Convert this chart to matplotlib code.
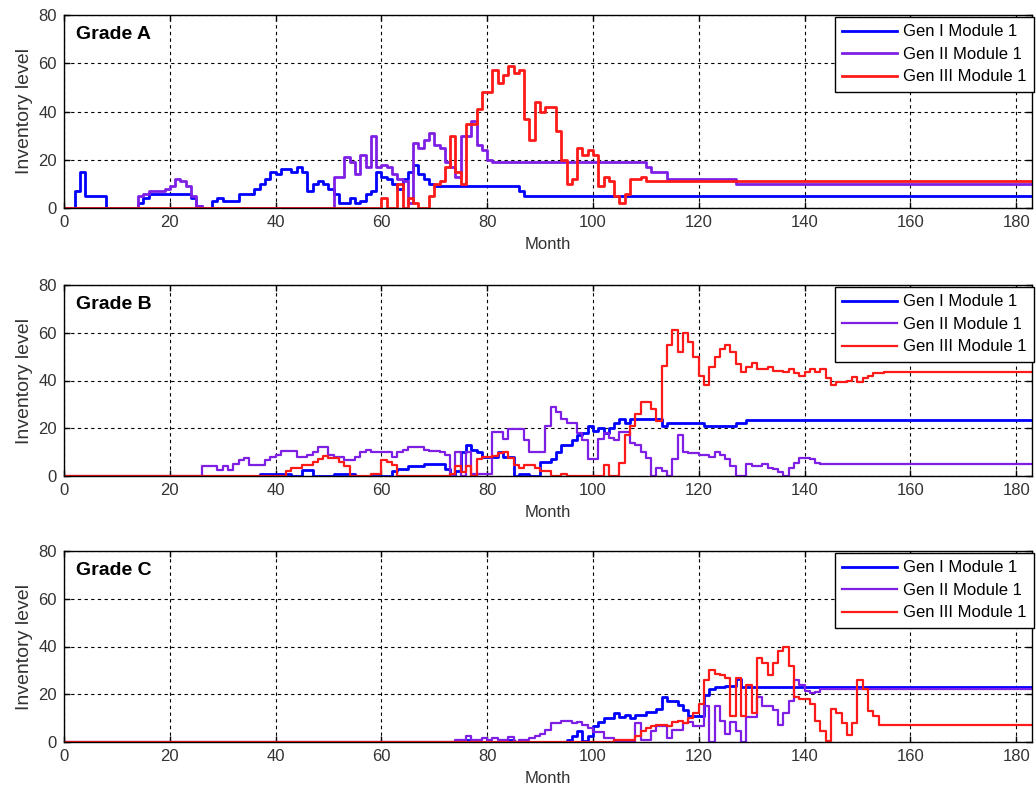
import matplotlib
matplotlib.use("Agg")
import matplotlib.pyplot as plt

plt.rcParams["font.family"] = ["Liberation Sans", "DejaVu Sans"]

# ── Inventory data: (month, level) change points, level holds until next point ──
A_GEN1 = [(0, 0), (2, 7), (3, 15), (4, 5), (8, 0), (14, 2), (15, 4), (16, 6), (24, 4),
          (25, 1), (26, 0), (28, 3), (29, 4), (30, 3), (33, 6), (36, 8), (37, 10),
          (38, 12), (39, 15), (40, 14), (41, 16), (43, 15), (44, 17), (45, 15), (46, 7),
          (47, 10), (48, 11), (49, 10), (50, 8), (51, 6), (52, 2), (54, 4), (55, 2),
          (56, 3), (57, 6), (58, 7), (59, 15), (60, 13), (61, 12), (62, 10), (63, 8),
          (64, 12), (65, 15), (66, 18), (67, 14), (68, 12), (69, 10), (70, 9), (86, 7),
          (87, 5)]
A_GEN2 = [(0, 0), (14, 5), (15, 6), (16, 7), (19, 8), (20, 9), (21, 12), (22, 11),
          (23, 9), (24, 5), (25, 1), (26, 0), (51, 13), (53, 21), (54, 19), (55, 14),
          (56, 22), (57, 17), (58, 30), (59, 17), (60, 18), (61, 17), (62, 14), (63, 12),
          (64, 11), (65, 2), (66, 27), (67, 25), (68, 28), (69, 31), (70, 26), (71, 25),
          (72, 19), (73, 17), (74, 13), (75, 30), (77, 36), (78, 26), (79, 24), (80, 20),
          (81, 19), (110, 17), (111, 15), (114, 12), (127, 10)]
A_GEN3 = [(0, 0), (60, 4), (61, 0), (63, 10), (64, 0), (65, 4), (66, 2), (67, 0),
          (69, 5), (70, 10), (71, 11), (72, 17), (73, 30), (74, 15), (75, 10), (76, 35),
          (78, 41), (79, 48), (81, 57), (82, 52), (83, 55), (84, 59), (85, 56), (86, 57),
          (87, 37), (88, 28), (89, 44), (90, 40), (91, 42), (93, 32), (94, 20), (95, 10),
          (96, 12), (97, 25), (98, 22), (99, 24), (100, 22), (101, 9), (102, 13),
          (103, 11), (104, 5), (105, 2), (106, 6), (107, 12), (109, 13), (110, 11)]

B_GEN1 = [(0, 0), (37, 1), (43, 0), (45, 2.5), (47, 0), (51, 1), (55, 0), (62, 2),
          (63, 3), (65, 4), (68, 5), (72, 3), (73, 0), (74, 2), (75, 10), (76, 13),
          (77, 11), (78, 10), (79, 8), (82, 10), (83, 8), (85, 0), (86, 1), (88, 0),
          (90, 6), (92, 7), (93, 10), (94, 13), (96, 15), (97, 17), (98, 18), (99, 21),
          (100, 19), (101, 20), (102, 18), (103, 20), (104, 22), (105, 24), (106, 22),
          (107, 24), (113, 21), (114, 22), (121, 21), (127, 22), (129, 23.5)]
B_GEN2 = [(0, 0), (26, 4), (29, 2.5), (30, 4), (31, 2.5), (32, 5), (33, 6.5), (34, 7.5),
          (35, 4.5), (38, 6.5), (39, 8), (40, 9), (41, 10.5), (44, 8), (46, 9), (47, 10),
          (48, 12), (50, 9), (51, 8), (53, 6.5), (55, 8), (56, 10), (57, 11), (58, 10),
          (60, 10), (62, 8), (63, 10), (64, 11), (65, 12), (68, 11), (69, 10.5), (71, 10),
          (72, 9), (73, 0), (74, 10), (75, 0), (76, 10), (77, 1), (81, 18.5), (83, 15.5),
          (84, 19.5), (87, 15), (88, 10), (91, 21), (92, 29), (93, 27), (94, 24), (95, 22),
          (97, 18), (98, 15), (99, 7), (101, 15.5), (102, 18), (103, 16), (104, 15),
          (105, 18.5), (107, 14), (108, 13), (109, 10), (110, 7.5), (111, 0), (112, 3.5),
          (113, 2), (114, 0), (115, 7), (116, 17), (117, 10), (118, 9.5), (120, 9),
          (122, 8), (123, 10), (124, 9), (125, 7), (126, 4), (127, 0), (129, 5), (130, 4),
          (132, 5), (133, 3.5), (134, 3), (135, 1.5), (136, 0), (137, 3.5), (138, 5.5),
          (139, 7.5), (141, 7), (142, 5.5), (143, 5)]
B_GEN3 = [(0, 0), (42, 2), (43, 3.5), (45, 4.5), (47, 6), (48, 7), (49, 8.5), (50, 7.5),
          (52, 6), (53, 4), (54, 0), (58, 1), (60, 6.5), (61, 6), (62, 4.5), (63, 0),
          (73, 1), (74, 4), (75, 1.5), (76, 4), (77, 0), (78, 7), (79, 8), (81, 8.5),
          (82, 9.5), (83, 10), (84, 7.5), (85, 4.5), (86, 3.5), (87, 4.5), (89, 3.5),
          (90, 2), (92, 0), (94, 1), (95, 0), (102, 4.5), (103, 0), (105, 5.5), (106, 17),
          (107, 21), (108, 26), (109, 31), (111, 28), (112, 23), (113, 46), (114, 55),
          (115, 61), (116, 52), (117, 60), (118, 56), (119, 50), (120, 42), (121, 38),
          (122, 45.5), (123, 50), (124, 53), (125, 55), (126, 52), (127, 47), (128, 43.5),
          (129, 45.5), (130, 47.5), (131, 45), (133, 45.5), (134, 44), (136, 43.5),
          (137, 45), (138, 43), (139, 42), (140, 43.5), (141, 45), (142, 43.5), (143, 45),
          (144, 41), (145, 38), (146, 39.5), (148, 40), (149, 41.5), (150, 39.5), (151, 41),
          (152, 42), (153, 43), (155, 43.5)]

C_GEN1 = [(0, 0), (76, 1), (78, 0), (83, 1), (85, 0), (95, 1), (96, 2.5), (97, 4.5),
          (98, 0.5), (99, 2.5), (100, 6.5), (101, 8.5), (102, 10), (104, 12), (105, 10.5),
          (106, 11.5), (107, 10), (108, 11.5), (110, 12.5), (112, 14), (113, 19), (114, 17),
          (116, 15.5), (117, 13.5), (118, 11), (121, 19.5), (122, 22), (123, 23),
          (125, 23.5), (127, 26.5), (128, 23)]
C_GEN2 = [(0, 0), (74, 1), (76, 2.5), (77, 1), (79, 1.5), (80, 1), (81, 1.5), (82, 1),
          (84, 2), (85, 0), (86, 1), (88, 1.5), (89, 2.5), (90, 3.5), (91, 5), (92, 8),
          (94, 9), (96, 8), (97, 8.5), (98, 7), (99, 6), (100, 4), (102, 1.5), (104, 0.5),
          (105, 0), (108, 8), (109, 1), (111, 4.5), (112, 6.5), (114, 1.5), (115, 5),
          (117, 8), (118, 8.5), (119, 6.5), (121, 15), (122, 0), (123, 15), (124, 9),
          (125, 3.5), (126, 8.5), (127, 4.5), (128, 0), (129, 10.5), (131, 19), (132, 15),
          (134, 13.5), (135, 7), (136, 12), (137, 17), (138, 26), (139, 24), (140, 21.5),
          (141, 20.5), (142, 21), (143, 22)]
C_GEN3 = [(0, 0), (104, 1), (108, 2.5), (109, 4.5), (110, 6), (111, 6.5), (112, 7),
          (114, 6.5), (115, 8.5), (116, 9), (117, 8), (118, 10), (119, 12), (120, 16),
          (121, 26), (122, 30), (123, 28.5), (124, 28), (125, 27), (126, 11), (127, 27),
          (128, 11), (129, 24), (130, 12), (131, 35), (132, 33), (133, 28), (134, 33),
          (135, 38), (136, 40), (137, 32), (138, 19), (139, 18), (141, 16), (142, 9),
          (143, 4.5), (144, 0.5), (145, 14), (146, 12), (147, 8), (148, 3), (149, 8),
          (150, 26), (151, 22), (152, 13), (153, 11), (154, 7)]

LAST_MONTH = 183
GRADES = ["Grade A", "Grade B", "Grade C"]
SERIES = [(A_GEN1, A_GEN2, A_GEN3), (B_GEN1, B_GEN2, B_GEN3), (C_GEN1, C_GEN2, C_GEN3)]
LABELS = ["Gen I Module 1", "Gen II Module 1", "Gen III Module 1"]
COLORS = ["#0000FF", "#7F1FE6", "#FF1A1A"]
# per-panel line widths (top panel drawn heavier)
WIDTHS = [(2.0, 2.0, 2.0), (2.0, 1.6, 1.6), (2.0, 1.6, 1.6)]

# axes boxes in pixels: (left, top, right, bottom)
FIG_W, FIG_H = 1036, 789
BOXES = [(64, 15, 1032, 208), (64, 285, 1032, 476), (64, 551, 1032, 742)]

fig = plt.figure(figsize=(FIG_W / 100, FIG_H / 100), dpi=100)

for (l, t, r, b), grade, series, widths in zip(BOXES, GRADES, SERIES, WIDTHS):
    ax = fig.add_axes([l / FIG_W, 1 - b / FIG_H, (r - l) / FIG_W, (b - t) / FIG_H])
    for pts, label, color, lw in zip(series, LABELS, COLORS, widths):
        months = [m for m, _ in pts] + [LAST_MONTH]
        levels = [v for _, v in pts] + [pts[-1][1]]
        ax.step(months, levels, where="post", color=color, lw=lw, label=label)

    ax.set_xlim(0, LAST_MONTH)
    ax.set_ylim(0, 80)
    ax.set_xticks(range(0, 181, 20))
    ax.set_yticks(range(0, 81, 20))
    ax.tick_params(direction="in", top=True, right=True, length=4, width=1,
                   labelsize=12, labelcolor="#333333", pad=5)
    ax.grid(True, color="black", linestyle=(0, (3, 3)), linewidth=0.8)
    for sp in ax.spines.values():
        sp.set_linewidth(1.0)
    ax.set_xlabel("Month", fontsize=12, color="#333333", labelpad=5)
    ax.set_ylabel("Inventory level", fontsize=14, color="#333333", labelpad=4)
    ax.text(0.012, 0.9, grade, transform=ax.transAxes, fontsize=14,
            fontweight="bold", va="center", ha="left")

    leg = ax.legend(loc="upper right", bbox_to_anchor=(1.002, 0.99), fontsize=12,
                    fancybox=False, framealpha=1, edgecolor="black",
                    handlelength=3.3, handletextpad=0.35, labelspacing=0.45,
                    borderpad=0.45, borderaxespad=0)
    leg.get_frame().set_linewidth(1.0)

fig.savefig("out.png", dpi=100)
